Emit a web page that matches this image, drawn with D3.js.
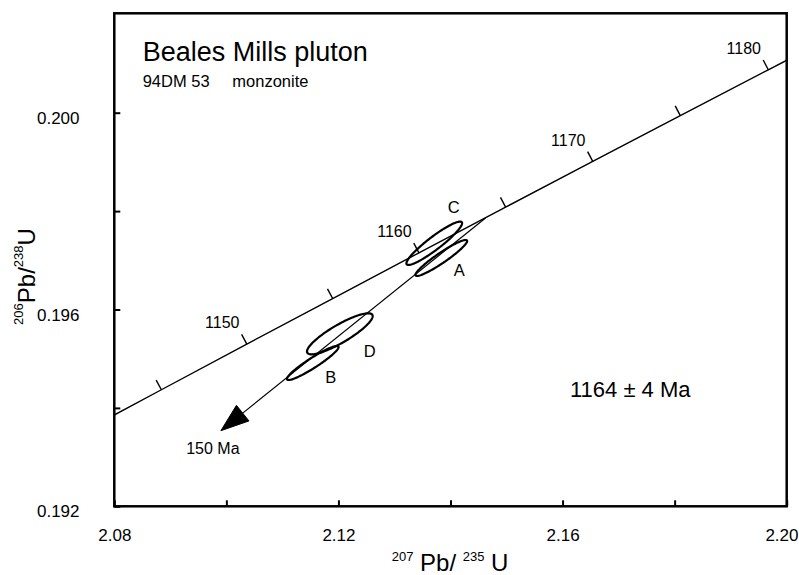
<!DOCTYPE html>
<html>
<head>
<meta charset="utf-8">
<script src="https://cdn.jsdelivr.net/npm/d3@7"></script>
<style>
  html, body { margin: 0; padding: 0; background: #fff; }
  svg { display: block; font-family: "Liberation Sans", Arial, Helvetica, sans-serif; }
</style>
</head>
<body>
<svg id="chart" width="799" height="575"></svg>
<script>
// ---------- data ----------
const xTicks = [2.08, 2.10, 2.12, 2.14, 2.16, 2.18, 2.20];
const xTickLabels = ["2.08", "", "2.12", "", "2.16", "", "2.20"];
const yTicks = [0.192, 0.194, 0.196, 0.198, 0.200];
const yTickLabels = ["0.192", "", "0.196", "", "0.200"];

// concordia curve points (age in Ma, 207Pb/235U, 206Pb/238U)
const concAges = [1140, 1145, 1150, 1155, 1160, 1165, 1170, 1175, 1180, 1185];
const concX = [2.073230, 2.088400, 2.103646, 2.118966, 2.134363, 2.149835, 2.165384, 2.181009, 2.196712, 2.212492];
const concY = [0.193443, 0.194369, 0.195296, 0.196223, 0.197152, 0.198080, 0.199010, 0.199940, 0.200872, 0.201803];
const concLabelAges = [1150, 1160, 1170, 1180];

// analyses (error ellipses)
const fractions = ["A", "B", "C", "D"];
const pb207u235 = [2.13836, 2.11542, 2.13710, 2.12025];
const err207 = [0.00461, 0.00461, 0.00497, 0.00586];
const pb206u238 = [0.197047, 0.194913, 0.197346, 0.195506];
const err206 = [0.000366, 0.000346, 0.000441, 0.000417];
const rho = [0.942, 0.938, 0.928, 0.864];

// discordia: upper intercept -> arrow toward 150 Ma lower intercept
const discX = [2.14626, 2.09902];
const discY = [0.19786, 0.193537];

const titleText = "Beales Mills pluton";
const subtitleSample = "94DM 53";
const subtitleRock = "monzonite";
const ageText = "1164 \u00b1 4 Ma";
const lowerText = "150 Ma";

// ---------- layout ----------
const svg = d3.select("#chart");
const L = 114.3, R = 786.7, T = 13.3, B = 506.3;
const x = d3.scaleLinear().domain([2.08, 2.20]).range([L, R]);
const y = d3.scaleLinear().domain([0.192, 0.202]).range([B, B - 0.010 * 49200]);

svg.append("clipPath").attr("id", "plotclip")
  .append("rect").attr("x", L).attr("y", T).attr("width", R - L).attr("height", B - T);

// axes ticks
const xAxis = d3.axisBottom(x).tickValues(xTicks).tickSize(-6)
  .tickFormat((d, i) => xTickLabels[i]);
const gx = svg.append("g").attr("transform", `translate(0,${B})`).call(xAxis);
gx.select(".domain").remove();
gx.selectAll(".tick line").attr("stroke", "#000").attr("stroke-width", 2);
gx.selectAll(".tick text").attr("y", 34.5).attr("dy", null)
  .attr("font-size", 17).attr("fill", "#000")
  .attr("font-family", "Liberation Sans, Arial, sans-serif");
gx.selectAll(".tick text").filter((d, i) => i === xTicks.length - 1)
  .attr("text-anchor", "end").attr("x", 798 - x(2.20));

const yAxis = d3.axisLeft(y).tickValues(yTicks).tickSize(-6)
  .tickFormat((d, i) => yTickLabels[i]);
const gy = svg.append("g").attr("transform", `translate(${L},0)`).call(yAxis);
gy.select(".domain").remove();
gy.selectAll(".tick line").attr("stroke", "#000").attr("stroke-width", 2);
gy.selectAll(".tick text").attr("x", -(L - 79.5)).attr("y", 10.5).attr("dy", null)
  .attr("font-size", 17).attr("fill", "#000")
  .attr("font-family", "Liberation Sans, Arial, sans-serif");

// frame
svg.append("rect").attr("x", L).attr("y", T).attr("width", R - L).attr("height", B - T)
  .attr("fill", "none").attr("stroke", "#000").attr("stroke-width", 2.5);

const plot = svg.append("g").attr("clip-path", "url(#plotclip)");

// concordia
const concPts = concAges.map((a, i) => [x(concX[i]), y(concY[i])]);
plot.append("path").attr("d", d3.line()(concPts))
  .attr("fill", "none").attr("stroke", "#000").attr("stroke-width", 1.4);

// concordia ticks and labels
concAges.forEach((a, i) => {
  if (concX[i] < 2.08 || concX[i] > 2.20) return;
  const p = concPts[i];
  const q = concPts[Math.min(i + 1, concPts.length - 1)];
  const o = concPts[Math.max(i - 1, 0)];
  const dx = q[0] - o[0], dy = q[1] - o[1];
  const len = Math.hypot(dx, dy);
  const nx = dy / len, ny = -dx / len;
  const tl = 11;
  plot.append("line")
    .attr("x1", p[0]).attr("y1", p[1])
    .attr("x2", p[0] + nx * tl).attr("y2", p[1] + ny * tl)
    .attr("stroke", "#000").attr("stroke-width", 1.4);
  if (concLabelAges.includes(a)) {
    svg.append("text").attr("x", p[0] - 24.5).attr("y", p[1] - 21.5 + 5.8)
      .attr("text-anchor", "middle").attr("font-size", 16).text(a);
  }
});

// discordia line with arrow
const d0 = [x(discX[0]), y(discY[0])], d1 = [x(discX[1]), y(discY[1])];
const ux = (d1[0] - d0[0]), uy = (d1[1] - d0[1]);
const ul = Math.hypot(ux, uy);
const dxu = ux / ul, dyu = uy / ul;
const headL = 28, headW = 10;
const base = [d1[0] - dxu * headL, d1[1] - dyu * headL];
svg.append("line").attr("x1", d0[0]).attr("y1", d0[1]).attr("x2", base[0]).attr("y2", base[1])
  .attr("stroke", "#000").attr("stroke-width", 1.2);
svg.append("path")
  .attr("d", d3.line()([d1, [base[0] + dyu * headW, base[1] - dxu * headW], [base[0] - dyu * headW, base[1] + dxu * headW]]) + "Z")
  .attr("fill", "#000").attr("stroke", "#000").attr("stroke-width", 1);
svg.append("text").attr("x", d1[0] - 8).attr("y", d1[1] + 23.5)
  .attr("text-anchor", "middle").attr("font-size", 16).text(lowerText);

// error ellipses
const labelOffsets = { A: [18, 12], B: [18, 14.5], C: [19.5, -36], D: [30, 17] };
fractions.forEach((f, i) => {
  const n = 120;
  const pts = d3.range(n).map(k => {
    const t = 2 * Math.PI * k / n;
    const ex = pb207u235[i] + err207[i] * Math.cos(t);
    const ey = pb206u238[i] + err206[i] * (rho[i] * Math.cos(t) + Math.sqrt(1 - rho[i] * rho[i]) * Math.sin(t));
    return [x(ex), y(ey)];
  });
  svg.append("path").attr("d", d3.line()(pts) + "Z")
    .attr("fill", "none").attr("stroke", "#000").attr("stroke-width", 2.2);
  const c = [x(pb207u235[i]), y(pb206u238[i])];
  const off = labelOffsets[f];
  svg.append("text").attr("x", c[0] + off[0]).attr("y", c[1] + off[1] + 5.8)
    .attr("text-anchor", "middle").attr("font-size", 16.5).text(f);
});

// titles
svg.append("text").attr("x", 142.7).attr("y", 61).attr("font-size", 27).text(titleText);
svg.append("text").attr("x", 142.7).attr("y", 87.3).attr("font-size", 16.5).text(subtitleSample);
svg.append("text").attr("x", 232.3).attr("y", 87.3).attr("font-size", 16.5).text(subtitleRock);
svg.append("text").attr("x", 570).attr("y", 396.7).attr("font-size", 22).text(ageText);

// x axis title
const xt = svg.append("text").attr("x", 391.7).attr("y", 570.5).attr("font-size", 24);
xt.append("tspan").attr("font-size", 13).attr("dy", -10).text("207");
xt.append("tspan").attr("dy", 10).text(" Pb/ ");
xt.append("tspan").attr("font-size", 13).attr("dy", -10).text("235");
xt.append("tspan").attr("dy", 10).text(" U");

// y axis title
const yt = svg.append("text").attr("transform", "translate(35,276.5) rotate(-90)")
  .attr("text-anchor", "middle").attr("font-size", 24);
yt.append("tspan").attr("font-size", 13).attr("dy", -12).text("206");
yt.append("tspan").attr("dy", 12).text("Pb/");
yt.append("tspan").attr("font-size", 13).attr("dy", -12).text("238");
yt.append("tspan").attr("dy", 12).text("U");
</script>
</body>
</html>
